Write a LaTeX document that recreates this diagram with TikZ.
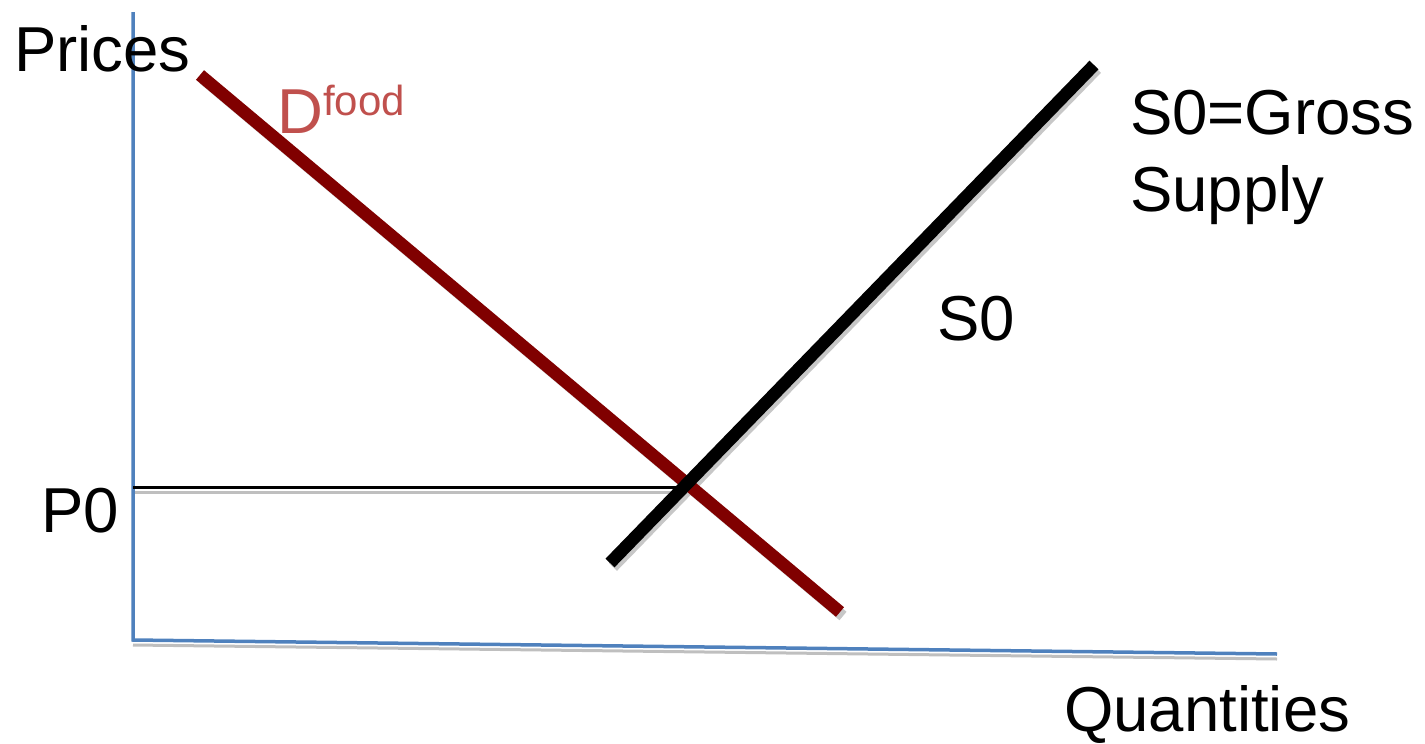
\documentclass[tikz,border=0pt]{standalone}
\usepackage{fontspec}
\setmainfont{Liberation Sans}
\definecolor{axisblue}{RGB}{79,129,189}
\definecolor{demandred}{RGB}{128,0,0}
\definecolor{labelred}{RGB}{192,80,77}
\begin{document}
\begin{tikzpicture}[x=1pt,y=-1pt,
  lbl/.style={anchor=base west,inner sep=0pt,font=\fontsize{63.5}{77}\selectfont},
  axisline/.style={draw=axisblue,line width=3.5pt},
  shadowline/.style={draw=black!25,line width=3pt},
  curve/.style={line width=12.5pt},
  curveshadow/.style={draw=black!22,line width=11pt}]
\useasboundingbox (0,0) rectangle (1425,744);
% coordinates
\coordinate (ytop) at (133,12);
\coordinate (origin) at (133,640);
\coordinate (xend) at (1277,654);
\coordinate (dA) at (200,75);
\coordinate (dB) at (840,612);
\coordinate (sA) at (610,563);
\coordinate (sB) at (1094,65);
\coordinate (p0L) at (133,487);
\coordinate (p0R) at (685,487);
% shadows
\draw[shadowline] ([shift={(0,5)}]origin) -- ([shift={(0,5)}]xend);
\draw[shadowline] ([shift={(0,5)}]p0L) -- ([shift={(0,5)}]p0R);
\draw[curveshadow] ([shift={(3,4)}]dA) -- ([shift={(3,4)}]dB);
\draw[curveshadow] ([shift={(3,4)}]sA) -- ([shift={(3,4)}]sB);
% axes
\draw[axisline] (ytop) -- (origin) -- (xend);
% P0 line
\draw[black,line width=3pt] (p0L) -- (p0R);
% demand and supply
\draw[curve,demandred] (dA) -- (dB);
\draw[curve,black] (sA) -- (sB);
% labels
\node[lbl] (prices) at (14,71) {Prices};
\node[lbl,text=labelred] (dfood) at (277,133) {D\raisebox{18pt}{\fontsize{42}{42}\selectfont food}};
\node[lbl] (gross) at (1130,134) {S0=Gross};
\node[lbl] (supply) at (1130,211) {Supply};
\node[lbl] (s0) at (937,340) {S0};
\node[lbl] (p0) at (41,532) {P0};
\node[lbl] (quant) at (1064,731) {Quantities};
\end{tikzpicture}
\end{document}
